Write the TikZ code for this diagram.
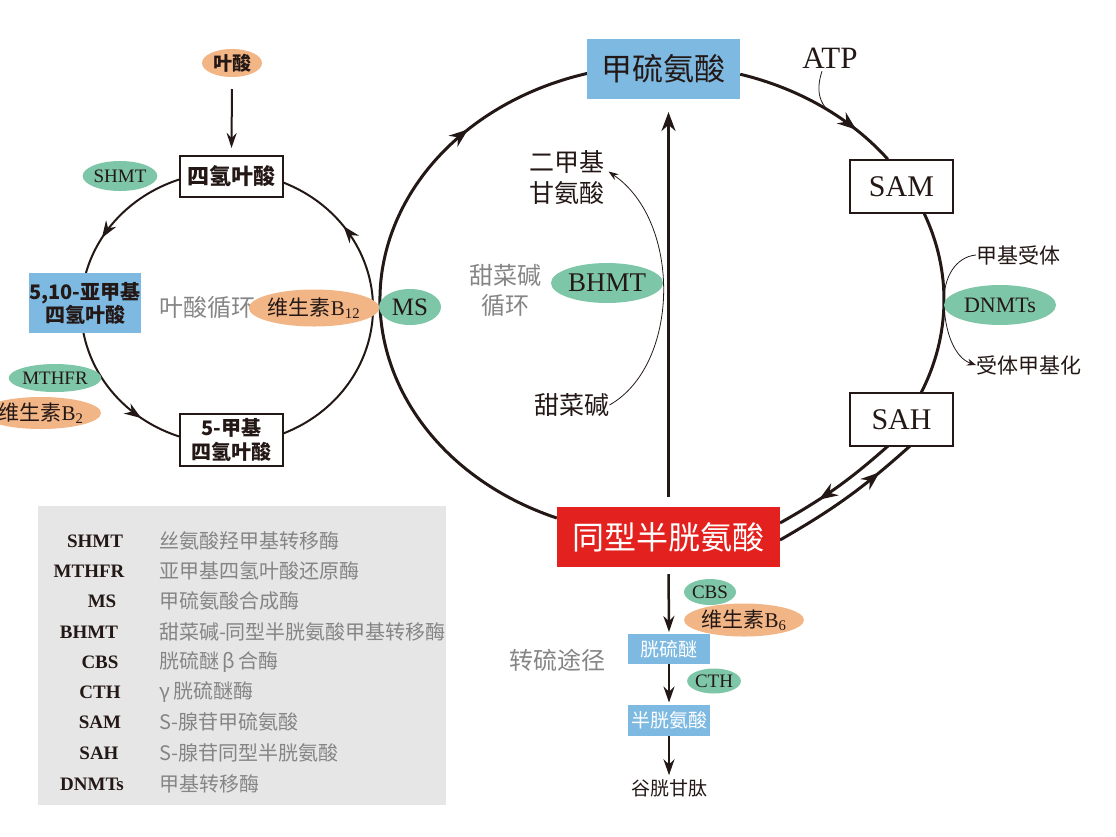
\documentclass[tikz,border=0pt]{standalone}
\usepackage{fontspec}
\setmainfont{Liberation Serif}
\newfontfamily\cjk{Noto Sans CJK SC}
\usetikzlibrary{arrows.meta,decorations.markings,calc,shapes.geometric,backgrounds}
\definecolor{ink}{HTML}{231815}
\definecolor{boxblue}{HTML}{7DB9E1}
\definecolor{hred}{HTML}{E3211E}
\definecolor{egreen}{HTML}{7EC6A8}
\definecolor{eorange}{HTML}{F2B586}
\definecolor{leggray}{HTML}{E6E6E7}
\definecolor{txtgray}{HTML}{858585}
\newcommand\fsz[2]{\fontsize{#1}{#2}\selectfont}
\newcommand\vitB[1]{{\cjk 维生素}B\textsubscript{#1}}
\tikzset{
  every node/.style={inner sep=0pt, outer sep=0pt, text=ink},
  wbox/.style={draw=ink, fill=white, align=center},
  bbox/.style={fill=boxblue, align=center},
  gell/.style={ellipse, fill=egreen},
  oell/.style={ellipse, fill=eorange},
  bigline/.style={ink, line width=3pt},
  midline/.style={ink, line width=2pt},
  thinline/.style={ink, line width=0.8pt},
  bigarrow/.style={postaction={decorate}, decoration={markings, mark=at position #1 with {\arrow{Stealth[length=19pt,width=14pt]}}}},
  midarrow/.style={postaction={decorate}, decoration={markings, mark=at position #1 with {\arrow{Stealth[length=17pt,width=12pt]}}}},
  graytxt/.style={text=txtgray, align=center},
}
\begin{document}
\begin{tikzpicture}[x=1pt,y=-1pt]
\useasboundingbox (0,0) rectangle (1116,836);
\coordinate (C) at (662,300);
\coordinate (C2) at (227,308);

% ---------- main cycle nodes ----------
\node[bbox, minimum width=153pt, minimum height=60pt, font={\cjk\fsz{31}{36}}] (met) at (663.5,69) {甲硫氨酸};
\node[fill=hred, minimum width=223pt, minimum height=60pt, text=white, font={\cjk\fsz{32}{36}}] (hcy) at (668.5,537) {同型半胱氨酸};
\node[wbox, line width=2.6pt, minimum width=103pt, minimum height=53pt, font={\fsz{30}{34}}] (sam) at (901.5,186.5) {SAM};
\node[wbox, line width=2.6pt, minimum width=103pt, minimum height=53pt, font={\fsz{30}{34}}] (sah) at (901.5,419.5) {SAH};
\node[font={\fsz{31}{34}}] (atp) at (830,58) {ATP};
\node[anchor=west, font={\cjk\fsz{21}{24}}] (acc) at (976,255) {甲基受体};
\node[anchor=west, font={\cjk\fsz{21}{24}}] (meth) at (976,365) {受体甲基化};
\node[gell, minimum width=112pt, minimum height=40pt, font={\fsz{22}{25}}] (dnmt) at (1000,305) {DNMTs};
\node[align=center, font={\cjk\fsz{25}{31}}] (dmg) at (567,177.5) {二甲基\\甘氨酸};
\node[graytxt, font={\cjk\fsz{24}{30}}] (bcyc) at (505,290) {甜菜碱\\循环};
\node[gell, minimum width=112pt, minimum height=40pt, font={\fsz{27}{30}}] (bhmt) at (607,283) {BHMT};
\node[font={\cjk\fsz{25}{28}}] (bet) at (572,405) {甜菜碱};
\node[gell, minimum width=62pt, minimum height=36pt, font={\fsz{25}{28}}] (ms) at (410,307) {MS};

% ---------- folate cycle nodes ----------
\node[oell, minimum width=60pt, minimum height=28pt, font={\cjk\bfseries\fsz{19}{22}}] (fa) at (232,63) {叶酸};
\node[wbox, line width=1.8pt, minimum width=103pt, minimum height=41pt, font={\cjk\bfseries\fsz{22}{26}}] (thf) at (231.5,176.5) {四氢叶酸};
\node[wbox, line width=1.8pt, minimum width=103pt, minimum height=52pt, font={\cjk\bfseries\fsz{20}{24}}] (mthf) at (231.5,440) {5-甲基\\四氢叶酸};
\node[bbox, minimum width=112pt, minimum height=60pt, font={\cjk\bfseries\fsz{20}{23}}] (mthf510) at (85,303) {5,10-亚甲基\\四氢叶酸};
\node[gell, minimum width=60pt, minimum height=30pt, font={\fsz{19}{22}}] (shmt) at (120,176) {SHMT};
\node[gell, minimum width=72pt, minimum height=28pt, font={\fsz{19}{22}}] (mthfr) at (55,378) {MTHFR};
\node[oell, minimum width=118pt, minimum height=32pt, font={\fsz{21}{24}}] (vb2) at (41,413) {\vitB{2}};
\node[graytxt, font={\cjk\fsz{24}{28}}] (fcyc) at (207,307) {叶酸循环};
\node[oell, minimum width=112pt, minimum height=37pt, font={\fsz{21}{24}}] (vb12) at (314,308) {\vitB{12}};

% ---------- transsulfuration nodes ----------
\node[bbox, minimum width=82pt, minimum height=30pt, text=white, font={\cjk\fsz{19}{22}}] (cysth) at (669,649) {胱硫醚};
\node[bbox, minimum width=82pt, minimum height=31pt, text=white, font={\cjk\fsz{19}{22}}] (cys) at (669,720) {半胱氨酸};
\node[font={\cjk\fsz{19}{22}}] (gsh) at (669,788) {谷胱甘肽};
\node[gell, minimum width=52pt, minimum height=26pt, font={\fsz{19}{22}}] (cbs) at (710,592) {CBS};
\node[oell, minimum width=111pt, minimum height=33pt, font={\fsz{21}{24}}] (vb6) at (744,620) {\vitB{6}};
\node[gell, minimum width=50pt, minimum height=25pt, font={\fsz{19}{22}}] (cth) at (714,681) {CTH};
\node[graytxt, font={\cjk\fsz{24}{28}}] (tsp) at (557,660) {转硫途径};

% ---------- legend ----------
\foreach \ab/\xx/\yy/\desc in {SHMT/95/541/丝氨酸羟甲基转移酶,MTHFR/89/571/亚甲基四氢叶酸还原酶,MS/102/601/甲硫氨酸合成酶,BHMT/89/632/甜菜碱-同型半胱氨酸甲基转移酶,CBS/100/662/胱硫醚\,β\,合酶,CTH/100/692/γ\,胱硫醚酶,SAM/100/722/S-腺苷甲硫氨酸,SAH/99/753/S-腺苷同型半胱氨酸,DNMTs/92/784/甲基转移酶}{
  \node[font={\bfseries\fsz{19}{23}}] (la\yy) at (\xx,\yy) {\ab};
  \node[anchor=west, text=txtgray, font={\cjk\fsz{20}{23}}] (ld\yy) at (159,\yy) {\desc};
}

\begin{scope}[on background layer]
\fill[leggray] (38,506) rectangle (446,805);
% main cycle arcs
\draw[bigline, bigarrow=0.79] ($(C)+(111.9:282 and 235)$) arc[start angle=111.9, end angle=254.6, x radius=282, y radius=235];
\draw[bigline, bigarrow=0.75] ($(C)+(-73.9:282 and 235)$) arc[start angle=-73.9, end angle=-36.8, x radius=282, y radius=235];
\draw[bigline] ($(C)+(-21.7:282 and 235)$) arc[start angle=-21.7, end angle=23.3, x radius=282, y radius=235];
\draw[bigline, bigarrow=0.66] ($(sah.south)+(-13.5,0)$) to[bend left=6] ($(hcy.east)+(0,-14)$);
\draw[bigline, bigarrow=0.75] ($(hcy.east)+(0,3)$) to[bend right=6] ($(sah.south)+(8.5,0)$);
\draw[bigline, -{Stealth[length=19pt,width=14pt]}, shorten <=10pt, shorten >=13pt] (hcy.north) -- (hcy.north |- met.south);
% ATP
\coordinate (atpend) at ($(C)+(-51:282 and 235)$);
\draw[thinline] ($(atp.south)+(-8,3)$) .. controls (814,95) and (822,110) .. (atpend);
% DNMTs
\draw[thinline, -{Stealth[length=9pt,width=7pt]}] (acc.west) .. controls (955,257) and (944,278) .. (944,300) .. controls (944,332) and (955,358) .. (meth.west);
% BHMT
\draw[thinline, -{Stealth[length=10pt,width=7pt]}] (bet.east) .. controls (680,365) and (682,222) .. ($(dmg.east)+(4,-6)$);
% folate cycle
\draw[midline, midarrow=0.72] ($(C2)+(251.2:146 and 136)$) arc[start angle=251.2, end angle=194.9, x radius=146, y radius=136];
\draw[midline, midarrow=0.71] ($(C2)+(169.4:146 and 136)$) arc[start angle=169.4, end angle=108.8, x radius=146, y radius=136];
\draw[midline, midarrow=0.77] ($(C2)+(67.4:146 and 136)$) arc[start angle=67.4, end angle=-67.4, x radius=146, y radius=136];
\draw[midline, -{Stealth[length=15pt,width=10pt]}, shorten <=12pt, shorten >=8pt] (fa.south) -- (thf.north);
% transsulfuration
\draw[midline, line width=2.5pt, -{Stealth[length=16pt,width=11pt]}, shorten <=7pt, shorten >=2pt] (hcy.south) -- (cysth.north);
\draw[midline, line width=2.5pt, -{Stealth[length=16pt,width=11pt]}, shorten >=2pt] (cysth.south) -- (cys.north);
\draw[midline, line width=2.5pt, -{Stealth[length=16pt,width=11pt]}, shorten >=4pt] (cys.south) -- (gsh.north);
\end{scope}
\end{tikzpicture}
\end{document}
